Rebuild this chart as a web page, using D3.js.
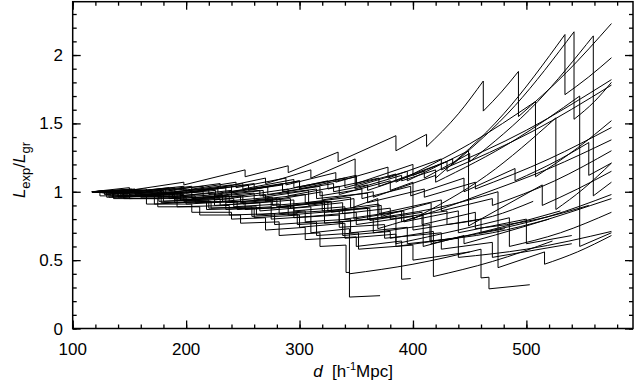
<!DOCTYPE html>
<html><head><meta charset="utf-8">
<script src="https://cdn.jsdelivr.net/npm/d3@7"></script>
<style>
html,body{margin:0;padding:0;background:#fff;}
text{font-family:"Liberation Sans",Arial,Helvetica,sans-serif;fill:#000;}
</style></head>
<body>
<svg id="chart" width="636" height="381"></svg>
<script>
// Axis ticks
const xTicks = [100, 200, 300, 400, 500];
const yTicks = [0, 0.5, 1, 1.5, 2];
const yTickLabels = ["0", "0.5", "1", "1.5", "2"];
const xDomain = [100, 594];
const yDomain = [0, 2.39];

// Each run: [d, Lexp/Lgr] points; a repeated d marks a drop
const run01 = [[117,1.0],[150,1.03],[150,1.01],[198,1.07],[198,1.05],[252,1.16],[252,1.11],[290,1.19],[290,1.14],[334,1.29],[334,1.22],[385,1.41],[385,1.30],[412,1.42],[412,1.33],[440,1.57],[462,1.81],[462,1.59],[478,1.73],[493,1.88],[493,1.55],[535,1.87],[575,2.23]];
const run02 = [[117,1.0],[140,1.01],[140,0.99],[185,1.03],[185,1.01],[230,1.06],[230,1.03],[270,1.10],[270,1.06],[310,1.16],[310,1.10],[349,1.24],[349,1.02],[390,1.12],[390,1.08],[420,1.16],[420,1.10],[480,1.57],[534,2.15],[534,1.71],[555,1.84],[575,1.98]];
const run03 = [[117,1.0],[150,1.01],[150,0.98],[200,1.02],[200,0.99],[260,1.06],[260,1.02],[300,1.08],[300,1.03],[350,1.12],[350,1.06],[400,1.20],[400,1.12],[435,1.24],[435,1.20],[490,1.63],[542,2.17],[542,1.53],[560,1.66],[575,1.80]];
const run04 = [[117,1.0],[135,1.0],[135,0.98],[180,1.01],[180,0.98],[235,1.03],[235,0.99],[285,1.05],[285,1.00],[330,1.06],[330,1.00],[360,1.05],[360,1.01],[410,1.15],[410,1.10],[450,1.28],[450,1.22],[510,1.66],[559,2.14],[559,0.97],[575,1.07]];
const run05 = [[117,1.0],[145,0.99],[145,0.96],[195,1.0],[195,0.97],[240,1.01],[240,0.96],[290,1.02],[290,0.97],[335,1.04],[335,0.98],[380,1.08],[380,1.01],[400,1.07],[400,0.80],[465,1.12],[526,1.54],[526,0.87],[550,1.02],[575,1.21]];
const run06 = [[117,1.0],[155,1.02],[155,0.99],[205,1.04],[205,1.0],[250,1.06],[250,1.02],[295,1.09],[295,1.03],[340,1.10],[340,1.03],[385,1.13],[385,1.07],[450,1.35],[508,1.66],[508,1.11],[545,1.32],[575,1.52]];
const run07 = [[117,1.0],[130,1.0],[130,0.98],[175,1.0],[175,0.96],[225,0.99],[225,0.94],[270,0.98],[270,0.93],[320,1.0],[320,0.94],[365,1.0],[365,0.96],[420,1.12],[420,1.07],[490,1.38],[547,1.70],[547,0.60],[575,0.70]];
const run08 = [[117,1.0],[140,0.99],[140,0.96],[190,0.98],[190,0.94],[230,0.95],[230,0.90],[275,0.93],[275,0.88],[320,0.92],[320,0.86],[360,0.88],[360,0.80],[420,0.88],[475,1.00],[475,0.445],[516,0.56],[516,0.47],[545,0.56],[575,0.68]];
const run09 = [[117,1.0],[150,0.99],[150,0.95],[200,0.96],[200,0.91],[245,0.93],[245,0.87],[290,0.89],[290,0.83],[335,0.86],[335,0.78],[385,0.82],[385,0.62],[440,0.72],[485,0.81],[485,0.60],[530,0.70],[575,0.85]];
const run10 = [[117,1.0],[128,1.0],[128,0.98],[170,1.01],[170,0.97],[215,1.0],[215,0.96],[260,0.99],[260,0.94],[305,0.98],[305,0.92],[345,0.96],[345,0.88],[369,0.95],[369,0.73],[420,0.86],[460,0.98],[520,1.17],[575,1.38]];
const run11 = [[117,1.0],[160,1.01],[160,0.98],[220,1.02],[220,0.98],[265,1.01],[265,0.97],[315,1.02],[315,0.95],[360,0.99],[360,0.92],[410,1.02],[410,0.96],[455,1.07],[455,1.02],[520,1.24],[575,1.47]];
const run12 = [[117,1.0],[145,1.01],[145,0.99],[190,1.03],[190,1.0],[240,1.05],[240,1.0],[285,1.06],[285,1.01],[325,1.08],[325,1.02],[370,1.10],[370,1.04],[430,1.22],[430,1.15],[505,1.44],[575,1.78]];
const run13 = [[117,1.0],[135,0.99],[135,0.96],[185,0.99],[185,0.95],[235,0.97],[235,0.92],[280,0.95],[280,0.89],[325,0.93],[325,0.86],[370,0.91],[370,0.84],[425,0.94],[425,0.86],[470,0.95],[470,0.90],[525,1.08],[575,1.30]];
const run14 = [[117,1.0],[150,1.0],[150,0.97],[195,0.99],[195,0.94],[250,0.97],[250,0.91],[295,0.94],[295,0.86],[340,0.89],[340,0.80],[390,0.86],[390,0.78],[409,0.83],[409,0.60],[445,0.68],[445,0.62],[500,0.75],[575,0.95]];
const run15 = [[117,1.0],[140,1.0],[140,0.97],[180,0.98],[180,0.93],[225,0.95],[225,0.90],[265,0.92],[265,0.86],[310,0.89],[310,0.82],[350,0.85],[350,0.76],[400,0.82],[400,0.72],[460,0.80],[460,0.70],[520,0.82],[575,0.98]];
const run16 = [[117,1.0],[132,0.99],[132,0.96],[178,0.97],[178,0.92],[222,0.93],[222,0.88],[262,0.89],[262,0.83],[305,0.86],[305,0.78],[345,0.80],[345,0.70],[395,0.74],[395,0.62],[440,0.66],[440,0.52],[500,0.58],[575,0.71]];
const run17 = [[117,1.0],[165,1.02],[165,1.0],[215,1.04],[215,1.01],[255,1.05],[255,1.01],[300,1.08],[300,1.02],[350,1.11],[350,1.04],[395,1.15],[395,1.08],[449,1.30],[449,0.75],[514,1.05],[514,0.90],[545,1.02],[575,1.15]];
const run18 = [[117,1.0],[136,0.99],[136,0.95],[175,0.95],[175,0.89],[212,0.89],[212,0.83],[248,0.83],[248,0.77],[282,0.78],[282,0.68],[318,0.70],[318,0.60],[341,0.61],[341,0.41],[344,0.41],[344,0.23],[371,0.24]];
const run19 = [[117,1.0],[142,1.0],[142,0.96],[190,0.97],[190,0.92],[235,0.93],[235,0.87],[275,0.89],[275,0.80],[310,0.82],[310,0.70],[344,0.73],[344,0.40],[400,0.47],[460,0.58],[460,0.37],[467,0.375],[467,0.29],[503,0.32]];
const run20 = [[117,1.0],[124,1.0],[124,0.97],[165,0.97],[165,0.91],[205,0.91],[205,0.85],[240,0.85],[240,0.80],[270,0.81],[270,0.72],[305,0.74],[305,0.65],[350,0.67],[350,0.60],[390,0.64],[390,0.36],[398,0.365]];
const run21 = [[117,1.0],[133,1.0],[133,0.97],[176,0.98],[176,0.93],[220,0.94],[220,0.88],[258,0.89],[258,0.82],[298,0.84],[298,0.76],[338,0.78],[338,0.68],[380,0.71],[380,0.66],[418,0.71],[418,0.38],[470,0.49],[523,0.64]];
const run22 = [[117,1.0],[148,1.0],[148,0.97],[198,0.98],[198,0.93],[242,0.95],[242,0.89],[282,0.91],[282,0.84],[322,0.86],[322,0.77],[365,0.80],[365,0.70],[415,0.76],[415,0.64],[470,0.70],[520,0.80]];
const run23 = [[117,1.0],[155,1.01],[155,0.98],[205,1.0],[205,0.95],[248,0.97],[248,0.92],[292,0.95],[292,0.88],[338,0.92],[338,0.84],[380,0.88],[380,0.80],[430,0.86],[430,0.76],[470,0.82],[506,0.93]];
const run24 = [[117,1.0],[130,0.99],[130,0.96],[172,0.97],[172,0.91],[218,0.93],[218,0.87],[260,0.88],[260,0.81],[300,0.83],[300,0.74],[340,0.77],[340,0.66],[385,0.69],[385,0.60],[435,0.66],[481,0.73]];
const run25 = [[117,1.0],[145,0.99],[145,0.95],[192,0.95],[192,0.89],[238,0.90],[238,0.83],[278,0.84],[278,0.76],[315,0.78],[315,0.68],[352,0.70],[352,0.58],[400,0.61],[400,0.50],[450,0.56]];
const run26 = [[117,1.0],[160,1.0],[160,0.96],[208,0.97],[208,0.92],[252,0.93],[252,0.87],[295,0.89],[295,0.81],[335,0.83],[335,0.74],[375,0.76],[375,0.66],[425,0.70],[425,0.58],[470,0.63],[470,0.52],[540,0.62]];
const run27 = [[117,1.0],[152,1.02],[152,1.0],[198,1.04],[198,1.01],[244,1.07],[244,1.03],[288,1.10],[288,1.05],[332,1.14],[332,1.07],[378,1.18],[378,1.10],[425,1.24],[425,1.16],[500,1.45],[575,1.82]];
const run28 = [[117,1.0],[138,1.01],[138,0.99],[178,1.02],[178,0.99],[228,1.03],[228,0.99],[272,1.04],[272,0.98],[318,1.04],[318,0.97],[355,1.02],[355,0.95],[398,1.04],[398,0.97],[445,1.10],[445,1.0],[490,1.17],[490,1.08],[530,1.24],[555,1.36],[555,1.12],[575,1.21]];
const run29 = [[117,1.0],[147,1.0],[147,0.97],[192,0.99],[192,0.95],[238,0.97],[238,0.92],[283,0.95],[283,0.89],[328,0.93],[328,0.85],[372,0.90],[372,0.82],[416,0.92],[416,0.62],[468,0.72],[530,0.86]];
const run30 = [[117,1.0],[143,1.0],[143,0.98],[188,1.0],[188,0.96],[232,0.98],[232,0.93],[276,0.96],[276,0.90],[322,0.93],[322,0.85],[362,0.88],[362,0.79],[408,0.85],[408,0.76],[455,0.85],[455,0.73],[510,0.80],[555,0.90]];
const run31 = [[117,1.0],[135,1.01],[135,0.99],[182,1.02],[182,0.98],[226,1.01],[226,0.97],[268,1.01],[268,0.96],[308,1.01],[308,0.90],[348,0.95],[348,0.80],[392,0.86],[392,0.78],[440,0.86],[440,0.70],[500,0.80],[500,0.62],[540,0.68]];

const runs = [run01,run02,run03,run04,run05,run06,run07,run08,run09,run10,run11,run12,run13,run14,run15,run16,run17,run18,run19,run20,run21,run22,run23,run24,run25,run26,run27,run28,run29,run30,run31];

const svg = d3.select("#chart");
const pL = 72.7, pR = 633, pT = 1.7, pB = 328.5;
const x = d3.scaleLinear().domain(xDomain).range([pL, pR]);
const y = d3.scaleLinear().domain(yDomain).range([pB, pT]);

// curves
const lineGen = d3.line().x(p => x(p[0])).y(p => y(p[1])).curve(d3.curveMonotoneX);
function pathFor(run) {
  const segs = [];
  let cur = [run[0]];
  for (let i = 1; i < run.length; i++) {
    if (run[i][0] === run[i-1][0]) { segs.push(cur); cur = [run[i]]; }
    else cur.push(run[i]);
  }
  segs.push(cur);
  return segs.map((s, i) => {
    const pts = s.length === 1 ? [s[0], s[0]] : s;
    const p = lineGen(pts);
    return i === 0 ? p : "L" + p.slice(1);
  }).join("");
}
const plot = svg.append("g");
plot.selectAll("path.run").data(runs).join("path")
  .attr("class","run")
  .attr("d", pathFor)
  .attr("fill","none").attr("stroke","#000").attr("stroke-width",1);

// axes with inward ticks
const xMinor = d3.range(100, 600, 20);
const yMinor = d3.range(0, 2.4, 0.1);
const axB = d3.axisBottom(x).tickValues(xMinor).tickSize(-4).tickFormat("");
const axT = d3.axisTop(x).tickValues(xMinor).tickSize(-4).tickFormat("");
const axL = d3.axisLeft(y).tickValues(yMinor).tickSize(-4).tickFormat("");
const axR = d3.axisRight(y).tickValues(yMinor).tickSize(-4).tickFormat("");
const axB2 = d3.axisBottom(x).tickValues(xTicks).tickSize(-8).tickFormat("");
const axT2 = d3.axisTop(x).tickValues(xTicks).tickSize(-8).tickFormat("");
const axL2 = d3.axisLeft(y).tickValues(yTicks).tickSize(-8).tickFormat("");
const axR2 = d3.axisRight(y).tickValues(yTicks).tickSize(-8).tickFormat("");
[[axB,`translate(0,${pB})`],[axT,`translate(0,${pT})`],[axL,`translate(${pL},0)`],[axR,`translate(${pR},0)`],
 [axB2,`translate(0,${pB})`],[axT2,`translate(0,${pT})`],[axL2,`translate(${pL},0)`],[axR2,`translate(${pR},0)`]]
 .forEach(([a,t]) => {
   const g = svg.append("g").attr("transform", t).call(a);
   g.select(".domain").remove();
   g.selectAll("line").attr("stroke","#000").attr("stroke-width",1.3);
 });
svg.append("rect").attr("x",pL).attr("y",pT).attr("width",pR-pL).attr("height",pB-pT)
  .attr("fill","none").attr("stroke","#000").attr("stroke-width",1.5);

// tick labels
svg.selectAll("text.xl").data(xTicks).join("text").attr("class","xl")
  .attr("x", d => x(d)).attr("y", 355).attr("text-anchor","middle")
  .attr("font-size",17).text(d => d);
svg.selectAll("text.yl").data(yTicks).join("text").attr("class","yl")
  .attr("x", 63).attr("y", d => y(d) + 6).attr("text-anchor","end")
  .attr("font-size",17).text((d,i) => yTickLabels[i]);

// axis titles
const xt = svg.append("text").attr("x", 353).attr("y", 377).attr("text-anchor","middle").attr("font-size",17);
xt.append("tspan").attr("font-style","italic").text("d");
xt.append("tspan").text("\u00a0\u00a0[h");
xt.append("tspan").attr("font-size",11).attr("dy",-7).text("-1");
xt.append("tspan").attr("dy",7).text("Mpc]");

const yt = svg.append("text").attr("transform","translate(25,170) rotate(-90)").attr("text-anchor","middle").attr("font-size",17);
yt.append("tspan").attr("font-style","italic").text("L");
yt.append("tspan").attr("font-size",13).attr("dy",5).text("exp");
yt.append("tspan").attr("dy",-5).text("/");
yt.append("tspan").attr("font-style","italic").text("L");
yt.append("tspan").attr("font-size",13).attr("dy",5).text("gr");
</script>
</body></html>
